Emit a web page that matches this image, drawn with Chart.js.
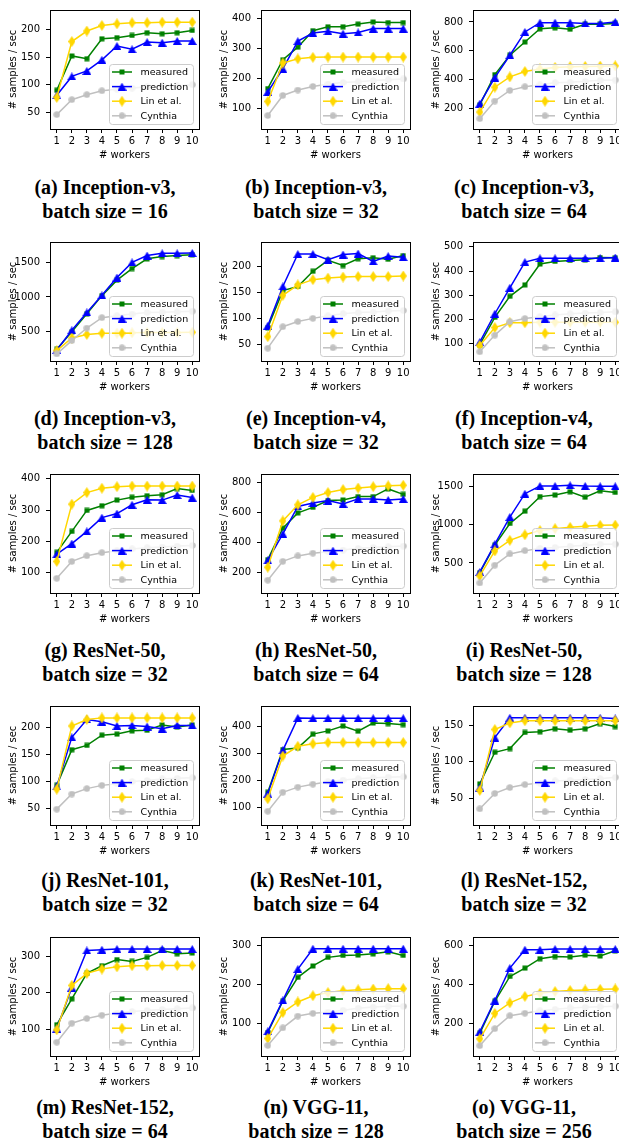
<!DOCTYPE html>
<html><head><meta charset="utf-8">
<script src="https://cdn.jsdelivr.net/npm/chart.js@4.4.0/dist/chart.umd.min.js"></script>
<style>
html,body{margin:0;padding:0;background:#fff;overflow:hidden;width:619px;height:1148px;position:relative}
canvas{position:absolute}
.cap{position:absolute;width:260px;text-align:center;font-family:"Liberation Serif","Times New Roman",serif;font-weight:bold;font-size:20px;line-height:24px;color:#000;white-space:nowrap}
</style></head><body>
<script>
// ---- shared categories / labels ----
const workers = [1,2,3,4,5,6,7,8,9,10];
const seriesNames = ['measured','prediction','Lin et al.','Cynthia'];

// ---- (a) Inception-v3, batch 16 ----
const a_measured   = [90,152,147,183,185,189,194,192,194,198];
const a_prediction = [81,115,125,145,170,164,177,176,179,179];
const a_lin        = [77,178,197,207,210,212,212,213,213,213];
const a_cynthia    = [46,73,82,89,92,94,96,98,98,100];
const a_yticks     = [50,100,150,200];
// ---- (b) Inception-v3, batch 32 ----
const b_measured   = [167,263,305,360,373,373,382,389,387,387];
const b_prediction = [156,233,325,352,358,350,354,367,367,367];
const b_lin        = [124,252,266,271,272,272,272,272,272,272];
const b_cynthia    = [77,144,162,174,182,187,190,194,196,199];
const b_yticks     = [100,200,300,400];
// ---- (c) Inception-v3, batch 64 ----
const c_measured   = [222,433,568,660,752,759,749,784,784,789];
const c_prediction = [230,412,568,730,795,795,795,789,789,800];
const c_lin        = [172,345,417,455,472,483,488,490,492,494];
const c_cynthia    = [126,249,323,348,362,377,380,386,393,395];
const c_yticks     = [200,400,600,800];
// ---- (d) Inception-v3, batch 128 ----
const d_measured   = [250,500,759,1019,1241,1407,1546,1579,1593,1606];
const d_prediction = [240,523,778,1023,1278,1495,1593,1625,1625,1630];
const d_lin        = [231,412,463,481,481,486,490,490,490,495];
const d_cynthia    = [185,375,555,704,731,755,778,782,787,796];
const d_yticks     = [500,1000,1500];
// ---- (e) Inception-v4, batch 32 ----
const e_measured   = [82,153,161,190,211,201,214,216,213,220];
const e_prediction = [86,161,223,223,212,222,224,209,219,217];
const e_lin        = [65,144,164,174,177,179,180,180,180,181];
const e_cynthia    = [43,84,94,100,105,109,111,112,114,115];
const e_yticks     = [50,100,150,200];
// ---- (f) Inception-v4, batch 64 ----
const f_measured   = [96,209,296,343,429,440,444,447,456,455];
const f_prediction = [107,224,331,437,453,453,453,453,453,456];
const f_lin        = [93,167,187,187,189,189,189,189,189,189];
const f_cynthia    = [67,136,191,204,212,219,224,227,229,232];
const f_yticks     = [100,200,300,400,500];
// ---- (g) ResNet-50, batch 32 ----
const g_measured   = [165,232,299,314,332,341,346,349,369,363];
const g_prediction = [159,193,232,276,289,317,333,332,348,340];
const g_lin        = [136,319,356,370,375,377,377,377,377,377];
const g_cynthia    = [82,136,154,164,170,176,180,182,185,187];
const g_yticks     = [100,200,300,400];
// ---- (h) ResNet-50, batch 64 ----
const h_measured   = [286,494,596,633,678,682,704,704,755,719];
const h_prediction = [281,457,639,661,678,656,689,689,682,689];
const h_lin        = [236,543,650,699,731,751,761,770,776,779];
const h_cynthia    = [150,275,311,329,339,350,361,367,371,376];
const h_yticks     = [200,400,600,800];
// ---- (i) ResNet-50, batch 128 ----
const i_measured   = [373,732,1015,1175,1365,1386,1428,1357,1441,1420];
const i_prediction = [382,745,1099,1403,1504,1504,1513,1504,1500,1500];
const i_lin        = [331,656,795,867,922,947,964,977,990,994];
const i_cynthia    = [239,471,618,660,690,703,719,732,745,745];
const i_yticks     = [500,1000,1500];
// ---- (j) ResNet-101, batch 32 ----
const j_measured   = [93,159,167,186,188,194,195,205,201,205];
const j_prediction = [91,182,215,211,203,204,202,198,204,204];
const j_lin        = [86,203,215,218,218,218,218,218,218,218];
const j_cynthia    = [49,77,87,93,96,100,102,105,106,107];
const j_yticks     = [50,100,150,200];
// ---- (k) ResNet-101, batch 64 ----
const k_measured   = [156,314,320,371,383,401,382,412,410,406];
const k_prediction = [151,311,431,430,430,430,430,430,430,430];
const k_lin        = [132,290,326,335,340,340,340,340,340,340];
const k_cynthia    = [86,156,175,186,195,201,206,210,212,213];
const k_yticks     = [100,200,300,400];
// ---- (l) ResNet-152, batch 32 ----
const l_measured   = [70,113,118,140,141,145,143,145,152,148];
const l_prediction = [65,133,160,160,160,160,160,160,160,159];
const l_lin        = [61,144,153,156,156,156,156,156,156,156];
const l_cynthia    = [36,57,65,69,71,74,75,76,77,79];
const l_yticks     = [50,100,150];
// ---- (m) ResNet-152, batch 64 ----
const m_measured   = [112,183,253,274,291,286,297,316,307,309];
const m_prediction = [101,214,316,318,320,320,320,320,320,320];
const m_lin        = [98,220,253,265,271,274,274,275,275,275];
const m_cynthia    = [64,116,129,138,144,148,151,154,156,158];
const m_yticks     = [100,200,300];
// ---- (n) VGG-11, batch 128 ----
const n_measured   = [78,158,219,248,270,275,276,279,284,275];
const n_prediction = [81,160,240,292,292,292,292,292,292,292];
const n_lin        = [63,129,156,172,180,185,187,189,190,190];
const n_cynthia    = [45,90,120,127,130,135,140,143,145,145];
const n_yticks     = [100,200,300];
// ---- (o) VGG-11, batch 256 ----
const o_measured   = [151,315,442,485,533,544,542,551,547,574];
const o_prediction = [159,319,485,579,579,582,582,582,582,582];
const o_lin        = [123,253,307,340,356,365,370,373,376,378];
const o_cynthia    = [88,175,241,254,266,274,281,284,287,290];
const o_yticks     = [200,400,600];

const panels = [
  {cap1:'(a) Inception-v3,', cap2:'batch size = 16',  s:[a_measured,a_prediction,a_lin,a_cynthia], t:a_yticks, lo:20,  hi:235},
  {cap1:'(b) Inception-v3,', cap2:'batch size = 32',  s:[b_measured,b_prediction,b_lin,b_cynthia], t:b_yticks, lo:32,  hi:429},
  {cap1:'(c) Inception-v3,', cap2:'batch size = 64',  s:[c_measured,c_prediction,c_lin,c_cynthia], t:c_yticks, lo:54,  hi:883},
  {cap1:'(d) Inception-v3,', cap2:'batch size = 128', s:[d_measured,d_prediction,d_lin,d_cynthia], t:d_yticks, lo:83,  hi:1787},
  {cap1:'(e) Inception-v4,', cap2:'batch size = 32',  s:[e_measured,e_prediction,e_lin,e_cynthia], t:e_yticks, lo:18.5,hi:246},
  {cap1:'(f) Inception-v4,', cap2:'batch size = 64',  s:[f_measured,f_prediction,f_lin,f_cynthia], t:f_yticks, lo:29,  hi:520},
  {cap1:'(g) ResNet-50,',    cap2:'batch size = 32',  s:[g_measured,g_prediction,g_lin,g_cynthia], t:g_yticks, lo:35,  hi:415.5},
  {cap1:'(h) ResNet-50,',    cap2:'batch size = 64',  s:[h_measured,h_prediction,h_lin,h_cynthia], t:h_yticks, lo:65,  hi:854},
  {cap1:'(i) ResNet-50,',    cap2:'batch size = 128', s:[i_measured,i_prediction,i_lin,i_cynthia], t:i_yticks, lo:108, hi:1660},
  {cap1:'(j) ResNet-101,',   cap2:'batch size = 32',  s:[j_measured,j_prediction,j_lin,j_cynthia], t:j_yticks, lo:19.6,hi:240},
  {cap1:'(k) ResNet-101,',   cap2:'batch size = 64',  s:[k_measured,k_prediction,k_lin,k_cynthia], t:k_yticks, lo:35,  hi:475},
  {cap1:'(l) ResNet-152,',   cap2:'batch size = 32',  s:[l_measured,l_prediction,l_lin,l_cynthia], t:l_yticks, lo:14,  hi:176},
  {cap1:'(m) ResNet-152,',   cap2:'batch size = 64',  s:[m_measured,m_prediction,m_lin,m_cynthia], t:m_yticks, lo:26,  hi:353},
  {cap1:'(n) VGG-11,',       cap2:'batch size = 128', s:[n_measured,n_prediction,n_lin,n_cynthia], t:n_yticks, lo:18,  hi:322},
  {cap1:'(o) VGG-11,',       cap2:'batch size = 256', s:[o_measured,o_prediction,o_lin,o_cynthia], t:o_yticks, lo:35,  hi:644}
];

// ---- layout ----
const plotLefts = [50, 261, 473];
const plotTops  = [6, 238, 470, 702, 933];
const capTops   = [175, 406, 638, 868, 1095];
const capCenters = [105, 316, 524];
const PW = 149, PH = 123, YW = 50, XH = 34, PADT = 8, PADR = 12;

const colors = ['#008000','#0000ff','#ffd700','#c0c0c0'];
const FONT = 'DejaVu Sans';

function mk(w,h,draw){const c=document.createElement('canvas');c.width=w;c.height=h;const g=c.getContext('2d');draw(g);return c;}
const markers = [
  mk(6,6,g=>{g.fillStyle=colors[0];g.fillRect(0.5,0.5,5,5);}),
  mk(9,8,g=>{g.fillStyle=colors[1];g.beginPath();g.moveTo(4.5,0);g.lineTo(9,8);g.lineTo(0,8);g.closePath();g.fill();}),
  mk(7,11,g=>{g.fillStyle=colors[2];g.beginPath();g.moveTo(3.5,0);g.lineTo(7,5.5);g.lineTo(3.5,11);g.lineTo(0,5.5);g.closePath();g.fill();}),
  mk(7,7,g=>{g.fillStyle=colors[3];g.beginPath();g.arc(3.5,3.5,3.2,0,Math.PI*2);g.fill();})
];

const framePlugin = {
  id:'frameLegend',
  afterDatasetsDraw(chart){
    const ctx=chart.ctx; const {right,bottom}=chart.chartArea;
    const bw=84,bh=60; const bx=right-6-bw, by=bottom-5-bh;
    ctx.save();
    ctx.beginPath();
    if(ctx.roundRect) ctx.roundRect(bx+0.5,by+0.5,bw,bh,3); else ctx.rect(bx+0.5,by+0.5,bw,bh);
    ctx.fillStyle='rgba(255,255,255,0.8)'; ctx.fill();
    ctx.strokeStyle='#cccccc'; ctx.lineWidth=1; ctx.stroke();
    ctx.font='9.5px "'+FONT+'"'; ctx.textBaseline='middle'; ctx.textAlign='left';
    for(let i=0;i<4;i++){
      const y=by+8+i*14.6;
      ctx.strokeStyle=colors[i]; ctx.lineWidth=1.5;
      ctx.beginPath(); ctx.moveTo(bx+3,y); ctx.lineTo(bx+23,y); ctx.stroke();
      const m=markers[i]; ctx.drawImage(m,bx+13-m.width/2,y-m.height/2);
      ctx.fillStyle='#000'; ctx.fillText(seriesNames[i],bx+31.5,y+0.5);
    }
    ctx.restore();
  },
  afterDraw(chart){
    const ctx=chart.ctx; const {left,top,right,bottom}=chart.chartArea;
    ctx.save(); ctx.strokeStyle='#000'; ctx.lineWidth=1;
    ctx.strokeRect(left+0.5,top+0.5,right-left,bottom-top);
    ctx.restore();
  }
};

panels.forEach((p,idx)=>{
  const col=idx%3, row=Math.floor(idx/3);
  const cv=document.createElement('canvas');
  const W=YW+PW+PADR, H=PADT+PH+XH;
  cv.width=W; cv.height=H;
  cv.style.left=(plotLefts[col]-YW)+'px'; cv.style.top=(plotTops[row]-PADT)+'px';
  cv.style.width=W+'px'; cv.style.height=H+'px';
  document.body.appendChild(cv);

  const cap=document.createElement('div'); cap.className='cap';
  cap.style.left=(capCenters[col]-130)+'px'; cap.style.top=capTops[row]+'px';
  cap.innerHTML=p.cap1+'<br>'+p.cap2;
  document.body.appendChild(cap);

  const datasets=p.s.map((vals,k)=>({
    label:seriesNames[k],
    data:vals.map((v,i)=>({x:workers[i],y:v})),
    borderColor:colors[k], backgroundColor:colors[k], borderWidth:1.5,
    pointStyle:markers[k], pointRadius:3, order:4-k, tension:0
  }));
  const tickFont={family:FONT,size:10};
  new Chart(cv,{
    type:'line',
    data:{datasets},
    options:{
      responsive:false, animation:false, devicePixelRatio:1,
      layout:{padding:{top:PADT,right:PADR,left:0,bottom:0}},
      plugins:{legend:{display:false},tooltip:{enabled:false}},
      scales:{
        x:{type:'linear',min:0.55,max:10.45,
          afterBuildTicks:s=>{s.ticks=workers.map(v=>({value:v}));},
          afterFit:s=>{s.height=XH;},
          ticks:{font:tickFont,color:'#000',padding:2,maxRotation:0,autoSkip:false,callback:v=>String(v)},
          grid:{drawOnChartArea:false,drawTicks:true,tickLength:4,color:'#000'},
          border:{display:true,color:'#000'},
          title:{display:true,text:'# workers',font:tickFont,color:'#000',padding:{top:0,bottom:2}}
        },
        y:{type:'linear',min:p.lo,max:p.hi,
          afterBuildTicks:s=>{s.ticks=p.t.map(v=>({value:v}));},
          afterFit:s=>{s.width=YW;},
          ticks:{font:tickFont,color:'#000',padding:6,callback:v=>String(v)},
          grid:{drawOnChartArea:false,drawTicks:true,tickLength:4,color:'#000'},
          border:{display:true,color:'#000'},
          title:{display:true,text:'# samples / sec',font:tickFont,color:'#000',padding:{top:7,bottom:0}}
        }
      }
    },
    plugins:[framePlugin]
  });
});
</script>
</body></html>
